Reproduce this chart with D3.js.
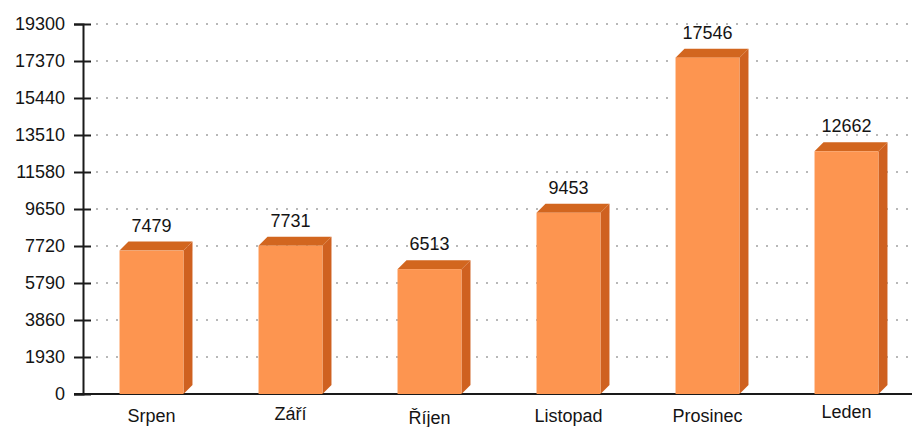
<!DOCTYPE html>
<html>
<head>
<meta charset="utf-8">
<script src="https://cdn.jsdelivr.net/npm/d3@7"></script>
<style>
  body { margin: 0; background: #fff; }
  text { font-family: "Liberation Sans", Arial, sans-serif; fill: #141414; }
</style>
</head>
<body>
<svg width="912" height="427"></svg>
<script>
var months = ["Srpen", "Září", "Říjen", "Listopad", "Prosinec", "Leden"];
var visits = [7479, 7731, 6513, 9453, 17546, 12662];
var yTicks = [0, 1930, 3860, 5790, 7720, 9650, 11580, 13510, 15440, 17370, 19300];

var svg = d3.select("svg");
var width = +svg.attr("width");
var axisX = 83, baseY = 394, topY = 24;
var depth = 9;

var x = d3.scaleBand()
    .domain(months)
    .range([axisX - 1, axisX - 1 + 6 * 139])
    .paddingInner(0.54)
    .paddingOuter(0.27);

var y = d3.scaleLinear()
    .domain([0, 19300])
    .range([baseY, topY]);

// dotted grid
svg.append("g")
  .selectAll("line")
  .data(yTicks.filter(function(d) { return d > 0; }))
  .enter().append("line")
  .attr("x1", axisX + 13)
  .attr("x2", width)
  .attr("y1", function(d) { return y(d); })
  .attr("y2", function(d) { return y(d); })
  .attr("stroke", "#b8b8b8")
  .attr("stroke-width", 2)
  .attr("stroke-dasharray", "2,8");

// baseline
svg.append("line")
  .attr("x1", axisX - 9).attr("x2", width)
  .attr("y1", baseY).attr("y2", baseY)
  .attr("stroke", "#1a1a1a").attr("stroke-width", 2);

// y axis
var yAxis = svg.append("g")
  .attr("transform", "translate(" + axisX + ",0)")
  .call(d3.axisLeft(y).tickValues(yTicks).tickSize(9).tickPadding(8).tickFormat(d3.format("d")));
yAxis.select(".domain").attr("stroke", "#1a1a1a").attr("stroke-width", 2);
yAxis.selectAll(".tick line").attr("stroke", "#1a1a1a").attr("stroke-width", 2)
  .attr("x2", -9).attr("x1", 8);
yAxis.selectAll(".tick text")
  .attr("font-size", 18)
  .attr("font-family", "Liberation Sans, Arial, sans-serif")
  .attr("fill", "#141414")
  .attr("x", -18);

var data = months.map(function(m, i) { return {month: m, value: visits[i]}; });
var bw = x.bandwidth();

var bars = svg.append("g").selectAll("g")
  .data(data)
  .enter().append("g");

// side face
bars.append("path")
  .attr("fill", "#cf6120")
  .attr("d", function(d) {
    var x1 = x(d.month) + bw, t = y(d.value);
    return "M" + x1 + "," + t + "L" + (x1 + depth) + "," + (t - depth) +
      "L" + (x1 + depth) + "," + (baseY - depth) + "L" + x1 + "," + baseY + "Z";
  });

// top face
bars.append("path")
  .attr("fill", "#d2661f")
  .attr("d", function(d) {
    var x0 = x(d.month), t = y(d.value);
    return "M" + x0 + "," + t + "L" + (x0 + depth) + "," + (t - depth) +
      "L" + (x0 + bw + depth) + "," + (t - depth) + "L" + (x0 + bw) + "," + t + "Z";
  });

// front face
bars.append("rect")
  .attr("x", function(d) { return x(d.month); })
  .attr("y", function(d) { return y(d.value); })
  .attr("width", bw)
  .attr("height", function(d) { return baseY - y(d.value); })
  .attr("fill", "#fd9550");

// value labels
bars.append("text")
  .attr("x", function(d) { return x(d.month) + bw / 2; })
  .attr("y", function(d) { return y(d.value) - depth - 10; })
  .attr("text-anchor", "middle")
  .attr("font-size", 18)
  .text(function(d) { return d.value; });

// category labels (the original sits them slightly unevenly)
var nudge = {"Září": -2, "Říjen": 2, "Leden": -4};
svg.append("g").selectAll("text")
  .data(months)
  .enter().append("text")
  .attr("x", function(d) { return x(d) + bw / 2; })
  .attr("y", function(d) { return 422 + (nudge[d] || 0); })
  .attr("text-anchor", "middle")
  .attr("font-size", 18)
  .text(function(d) { return d; });
</script>
</body>
</html>
